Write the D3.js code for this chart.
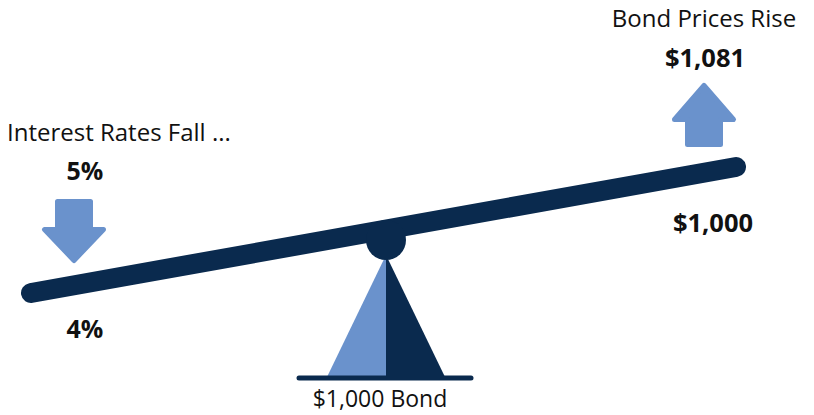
<!DOCTYPE html>
<html>
<head>
<meta charset="utf-8">
<script src="https://cdn.jsdelivr.net/npm/d3@7"></script>
<style>
  body { margin: 0; background: #fff; }
  text { font-family: "Open Sans", sans-serif; fill: #111; }
</style>
</head>
<body>
<svg id="chart" width="814" height="415"></svg>
<script>
// labels and values
const sideTitles = ["Interest Rates Fall ...", "Bond Prices Rise"];
const rateValues = ["5%", "4%"];       // before, after
const priceValues = ["$1,081", "$1,000"]; // after (top), before (below)
const bondLabel = ["$1,000 Bond"];
const arrowDirs = ["down", "up"];

const navy = "#0a2a4e";
const lightBlue = "#6a92cc";

const svg = d3.select("#chart");

// beam ends: left (low) and right (high)
const x = d3.scaleLinear().domain([0, 1]).range([31, 736]);
const y = d3.scaleLinear().domain([0, 1]).range([293, 167]);

// beam
svg.append("line")
    .attr("x1", x(0)).attr("y1", y(0))
    .attr("x2", x(1)).attr("y2", y(1))
    .attr("stroke", navy)
    .attr("stroke-width", 20)
    .attr("stroke-linecap", "round");

// fulcrum
const px = 386;
svg.append("path")
    .attr("d", `M${px},255 L327,377 L${px},377 Z`)
    .attr("fill", lightBlue);
svg.append("path")
    .attr("d", `M${px},255 L445,377 L${px},377 Z`)
    .attr("fill", navy);
svg.append("circle")
    .attr("cx", px).attr("cy", 240).attr("r", 20)
    .attr("fill", navy);
svg.append("line")
    .attr("x1", 299).attr("y1", 378)
    .attr("x2", 471).attr("y2", 378)
    .attr("stroke", navy)
    .attr("stroke-width", 5)
    .attr("stroke-linecap", "round");

svg.append("text")
    .attr("x", 380).attr("y", 407)
    .attr("text-anchor", "middle")
    .attr("font-size", 23)
    .text(bondLabel[0]);

// arrows (outer size 64 x 64, rounded by a 5px round-joined stroke)
function arrow(cx, top, dir) {
    const hw = 29.5, sw = 16.5, h = 59;
    const t = top + 2.5;
    let pts;
    if (dir === "down") {
        const s = t + 28;
        pts = [[cx - sw, t], [cx + sw, t], [cx + sw, s], [cx + hw, s],
               [cx, t + h], [cx - hw, s], [cx - sw, s]];
    } else {
        const s = t + 34;
        pts = [[cx, t], [cx + hw, s], [cx + sw, s], [cx + sw, t + h],
               [cx - sw, t + h], [cx - sw, s], [cx - hw, s]];
    }
    svg.append("path")
        .attr("d", d3.line()(pts) + "Z")
        .attr("fill", lightBlue)
        .attr("stroke", lightBlue)
        .attr("stroke-width", 5)
        .attr("stroke-linejoin", "round");
}
arrow(74, 199, arrowDirs[0]);
arrow(704, 83, arrowDirs[1]);

// left side text
svg.append("text")
    .attr("x", 7).attr("y", 141)
    .attr("font-size", 24)
    .text(sideTitles[0]);
svg.append("text")
    .attr("x", 85).attr("y", 180)
    .attr("text-anchor", "middle")
    .attr("font-size", 25).attr("font-weight", "bold")
    .text(rateValues[0]);
svg.append("text")
    .attr("x", 85).attr("y", 338)
    .attr("text-anchor", "middle")
    .attr("font-size", 25).attr("font-weight", "bold")
    .text(rateValues[1]);

// right side text
svg.append("text")
    .attr("x", 704).attr("y", 27)
    .attr("text-anchor", "middle")
    .attr("font-size", 24)
    .text(sideTitles[1]);
svg.append("text")
    .attr("x", 705).attr("y", 67)
    .attr("text-anchor", "middle")
    .attr("font-size", 25.5).attr("font-weight", "bold")
    .text(priceValues[0]);
svg.append("text")
    .attr("x", 713).attr("y", 232)
    .attr("text-anchor", "middle")
    .attr("font-size", 25.5).attr("font-weight", "bold")
    .text(priceValues[1]);
</script>
</body>
</html>
